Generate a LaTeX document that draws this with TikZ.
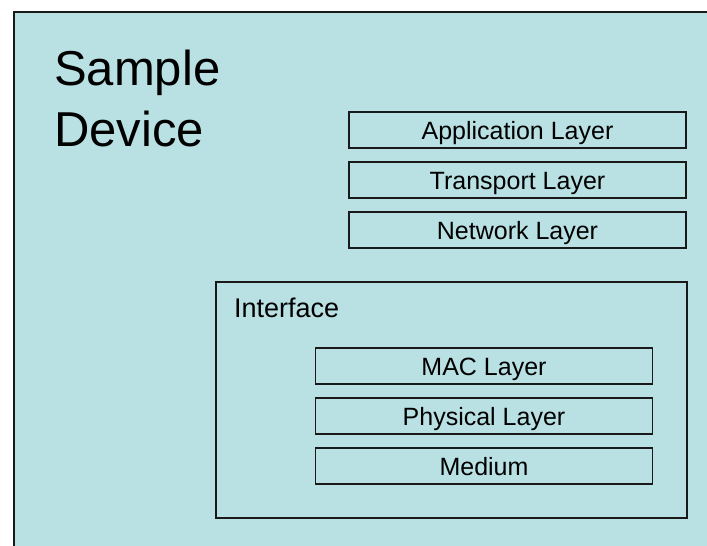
\documentclass[tikz,border=0pt]{standalone}
\usepackage{fontspec}
\setmainfont{Liberation Sans}
\usetikzlibrary{positioning}
\definecolor{devbg}{RGB}{185,224,227}

\begin{document}
\begin{tikzpicture}[
      x=1pt, y=-1pt,
      node distance = 12.5pt,
      frame/.style  = {rectangle, draw=black!90, line width=1.5pt, fill=devbg,
      inner sep=0pt, anchor=north west},
      layer/.style  = {rectangle, draw=black!90, line width=1.5pt, inner sep=0pt,
        minimum width=337pt, minimum height=36pt,
        text height=19pt, text depth=0pt,
      font=\fontsize{25}{29}\selectfont}
    ]

    % page and background
    \useasboundingbox[fill=white] (0,0) rectangle (707,546);
    \clip (0,0) rectangle (707,546);

    % ---------------- device ----------------
    \node[frame, minimum width=720pt, minimum height=560pt] (device) at (13,11) {};
    \node[anchor=north west, inner sep=0pt, align=left,
    font=\fontsize{49}{61}\selectfont] (title) at (54,50) {Sample\\Device};

    % upper layers
    \node[layer] (app) at (517.5,130) {Application Layer};
    \node[layer, below=of app] (transport) {Transport Layer};
    \node[layer, below=of transport] (network) {Network Layer};

    % ---------------- interface ----------------
    \node[frame, minimum width=471pt, minimum height=236pt] (iface) at (215,281) {};
    \node[anchor=base west, inner sep=0pt,
    font=\fontsize{27}{31}\selectfont] (ifaceLabel) at (234,317) {Interface};

    \node[layer] (mac) at (484,366) {MAC Layer};
    \node[layer, below=of mac] (phy) {Physical Layer};
    \node[layer, below=of phy] (medium) {Medium};

  \end{tikzpicture}
\end{document}
